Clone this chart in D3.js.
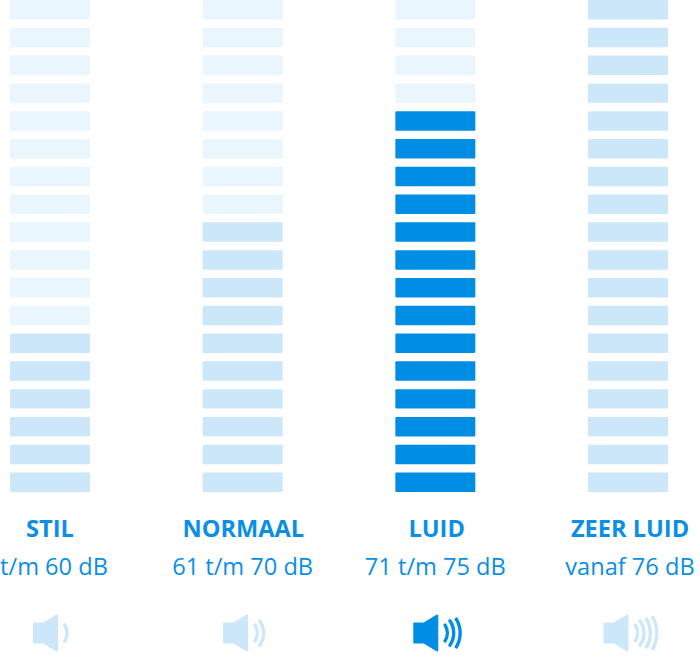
<!DOCTYPE html>
<html>
<head>
<meta charset="utf-8">
<script src="https://cdn.jsdelivr.net/npm/d3@7"></script>
<style>
  html, body { margin: 0; padding: 0; background: #fff; }
  svg { display: block; }
  text { font-family: "Open Sans", sans-serif; fill: #0a8ee6; text-anchor: middle; }
  .name { font-size: 23.6px; font-weight: 700; }
  .range { font-size: 23.6px; }
</style>
</head>
<body>
<svg id="chart" width="700" height="658"></svg>
<script>
// Sound levels, one column each
var categories = ["STIL", "NORMAAL", "LUID", "ZEER LUID"];
var ranges = ["t/m 60 dB", "61 t/m 70 dB", "71 t/m 75 dB", "vanaf 76 dB"];
var litBars = [6, 10, 14, 18];
var waves = [1, 2, 3, 4];
var totalBars = d3.range(1, 19);

var selected = "LUID";
var width = 700, height = 658;
var pale = "#eaf6fe", light = "#cbe7f9", strong = "#008de4";

var svg = d3.select("#chart");

var x = d3.scalePoint().domain(categories).range([50, 628]);
var nameX = d3.scalePoint().domain(categories).range([50, 630]);
// the icons sit a bit tighter than the bars
var iconX = d3.scalePoint().domain(categories).range([50.5, 621]);
// bar 1 is the bottom one
var y = d3.scaleBand().domain(totalBars.slice().reverse()).range([0, 492]).paddingInner(0.3);

var barWidth = 80;

var columns = svg.selectAll("g.column")
  .data(categories)
  .enter().append("g")
  .attr("class", "column");

columns.each(function (name, i) {
  var col = d3.select(this);
  var on = name === selected ? strong : light;

  col.selectAll("rect")
    .data(totalBars)
    .enter().append("rect")
    .attr("x", x(name) - barWidth / 2)
    .attr("y", function (b) { return y(b); })
    .attr("width", barWidth)
    .attr("height", y.bandwidth())
    .attr("rx", 1)
    .attr("fill", function (b) { return b <= litBars[i] ? on : pale; });

  col.append("text").attr("class", "name").attr("x", nameX(name)).attr("y", 536.5).text(name);
  col.append("text").attr("class", "range").attr("x", x(name)).attr("y", 575)
    .attr("dx", i === 0 ? 4 : (i === 3 ? 2 : 0))
    .text(ranges[i]);

  // speaker icon
  var icon = col.append("g").attr("transform", "translate(" + iconX(name) + ",633)");
  icon.append("path")
    .attr("d", "M-17,-10H-7L6,-18Q7,-18.5 7,-17V17Q7,18.5 6,18L-7,10H-17Z")
    .attr("fill", on)
    .attr("stroke", on)
    .attr("stroke-width", 1)
    .attr("stroke-linejoin", "round");

  var arc = d3.arc().cornerRadius(1.2);
  var radii = [15, 22, 29, 36];
  var angles = [0.66, 0.68, 0.58, 0.52];
  icon.selectAll("path.wave")
    .data(d3.range(waves[i]))
    .enter().append("path")
    .attr("class", "wave")
    .attr("transform", "translate(1.5,0)")
    .attr("fill", on)
    .attr("d", function (w) {
      var r = radii[w] - w * 0.6;
      return arc({
        innerRadius: r - 1.7,
        outerRadius: r + 1.7,
        startAngle: Math.PI / 2 - angles[w],
        endAngle: Math.PI / 2 + angles[w]
      });
    });
});
</script>
</body>
</html>
